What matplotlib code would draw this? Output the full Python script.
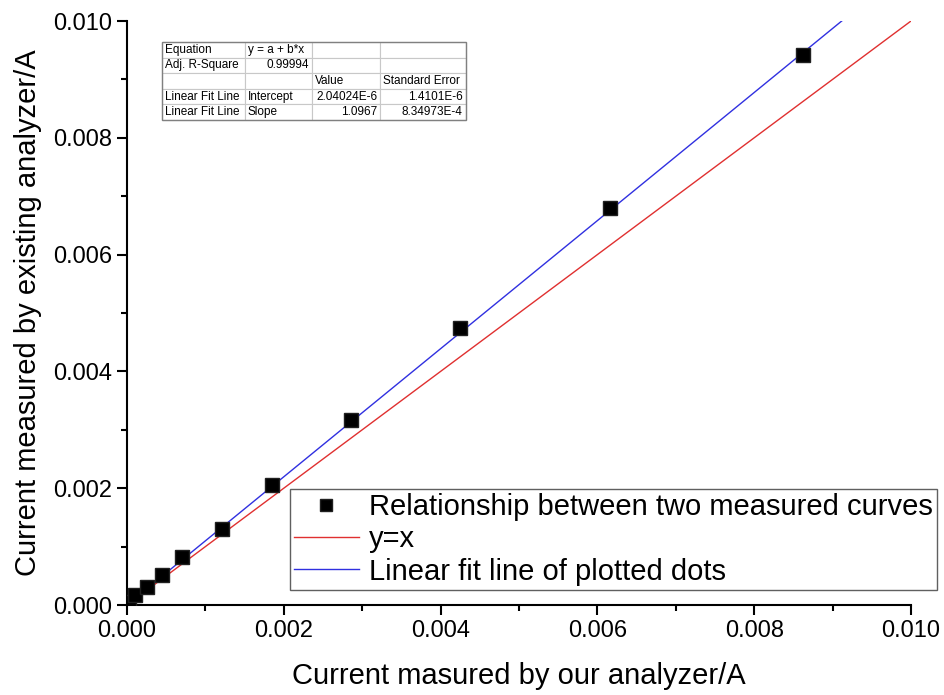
import matplotlib
matplotlib.use("Agg")
import numpy as np
from matplotlib import pyplot as plt
from matplotlib.ticker import MultipleLocator, FormatStrFormatter

plt.rcParams['font.family'] = ['Liberation Sans', 'DejaVu Sans']

# measured currents (A)
ours = [0.00003, 0.00010, 0.000255, 0.000446, 0.000702, 0.00121, 0.00185,
        0.002857, 0.004247, 0.00616, 0.008622]
existing = [0.00005, 0.00017, 0.00031, 0.00051, 0.00082, 0.00130, 0.00205,
            0.00317, 0.00474, 0.00680, 0.00942]

# linear fit results
intercept = 2.04024e-6
slope = 1.0967
adj_r2 = 0.99994
intercept_err = 1.4101e-6
slope_err = 8.34973e-4

fig = plt.figure(figsize=(9.44, 6.95), dpi=100)
ax = fig.add_axes([127 / 944, 90 / 695, 784 / 944, 584 / 695])

xx = np.linspace(0, 0.010, 2)
ax.plot(xx, xx, color="#e03030", lw=1.0, label="y=x", zorder=2)
x_end = (0.010 - intercept) / slope
xf = np.linspace(0, x_end, 2)
ax.plot(xf, intercept + slope * xf, color="#3030e0", lw=1.0,
        label="Linear fit line of plotted dots", zorder=2)
ax.plot(ours, existing, "s", color="black", ms=9.5, mec="#202020",
        label="Relationship between two measured curves", zorder=3)

ax.set_xlim(0, 0.010)
ax.set_ylim(0, 0.010)
for s in ("top", "right"):
    ax.spines[s].set_visible(False)
for s in ("left", "bottom"):
    ax.spines[s].set_linewidth(1.5)
ax.xaxis.set_major_locator(MultipleLocator(0.002))
ax.xaxis.set_minor_locator(MultipleLocator(0.001))
ax.yaxis.set_major_locator(MultipleLocator(0.002))
ax.yaxis.set_minor_locator(MultipleLocator(0.001))
ax.xaxis.set_major_formatter(FormatStrFormatter("%.3f"))
ax.yaxis.set_major_formatter(FormatStrFormatter("%.3f"))
ax.tick_params(which="major", direction="out", length=7, width=1.5, labelsize=17)
ax.tick_params(which="minor", direction="out", length=4, width=1.5)
ax.set_xlabel("Current masured by our analyzer/A", fontsize=21, labelpad=15)
ax.set_ylabel("Current measured by existing analyzer/A", fontsize=21, labelpad=8)

handles, labels = ax.get_legend_handles_labels()
order = [2, 0, 1]
leg = ax.legend([handles[i] for i in order], [labels[i] for i in order],
                loc="lower right", bbox_to_anchor=(937 / 944, 105 / 695),
                bbox_transform=fig.transFigure, borderaxespad=0,
                fontsize=21, frameon=True, fancybox=False, framealpha=1,
                edgecolor="#606060", handlelength=2.2, handletextpad=0.35,
                borderpad=0.15, labelspacing=0.15, markerscale=0.9)
leg.get_frame().set_linewidth(1.0)

# fit summary table
cells = [
    ["Equation", "y = a + b*x", "", ""],
    ["Adj. R-Square", f"{adj_r2:.5f}", "", ""],
    ["", "", "Value", "Standard Error"],
    ["Linear Fit Line", "Intercept", "2.04024E-6", "1.4101E-6"],
    ["Linear Fit Line", "Slope", f"{slope:.4f}", "8.34973E-4"],
]
col_w = [83, 67, 68, 86]
tab_box = [35 / 784, (605 - 120) / 584, sum(col_w) / 784, 78 / 584]
tab = ax.table(cellText=cells, colWidths=[w / sum(col_w) for w in col_w],
               bbox=tab_box, cellLoc="left")
tab.auto_set_font_size(False)
tab.set_fontsize(8.5)
right_cells = {(1, 1), (3, 2), (3, 3), (4, 2), (4, 3)}
for (r, c), cell in tab.get_celld().items():
    cell.set_edgecolor("#c8c8c8")
    cell.set_linewidth(0.8)
    cell.PAD = 0.04
    if (r, c) in right_cells:
        cell.get_text().set_ha("right")
        cell._loc = "right"
ax.add_patch(plt.Rectangle(tab_box[:2], tab_box[2], tab_box[3],
                           transform=ax.transAxes, fill=False,
                           edgecolor="#808080", lw=1.0, zorder=5))

fig.savefig("out.png", dpi=100)
